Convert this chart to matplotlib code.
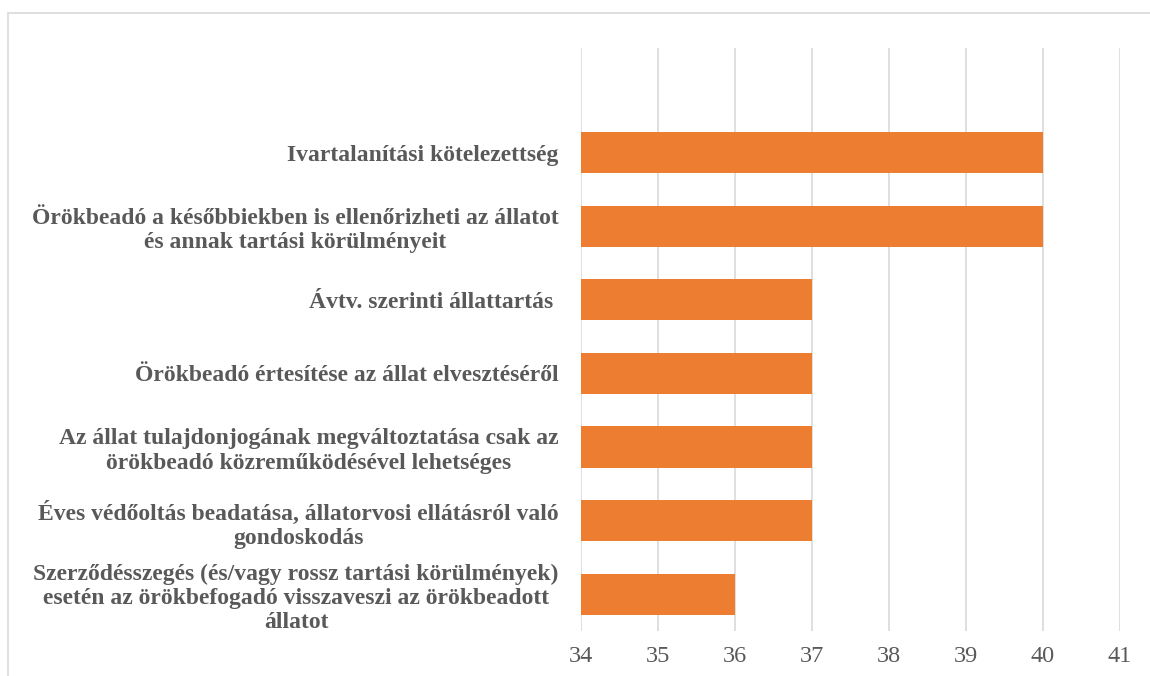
import matplotlib.pyplot as plt
from matplotlib.patches import Rectangle

categories = [
    "Ivartalanítási kötelezettség",
    "Örökbeadó a későbbiekben is ellenőrizheti az állatot\nés annak tartási körülményeit",
    "Ávtv. szerinti állattartás ",
    "Örökbeadó értesítése az állat elvesztéséről",
    "Az állat tulajdonjogának megváltoztatása csak az\nörökbeadó közreműködésével lehetséges",
    "Éves védőoltás beadatása, állatorvosi ellátásról való\ngondoskodás",
    "Szerződésszegés (és/vagy rossz tartási körülmények)\nesetén az örökbefogadó visszaveszi az örökbeadott\nállatot",
]
values = [40, 40, 37, 37, 37, 37, 36]
xticks = [34, 35, 36, 37, 38, 39, 40, 41]

plt.rcParams['font.family'] = ['Liberation Serif', 'DejaVu Serif']

fig = plt.figure(figsize=(11.5, 6.76), dpi=100)
ax = fig.add_axes([581/1150, 1 - 631/676, (1120-581)/1150, (631-48)/676])

y = list(range(len(categories)))
ax.barh(y, [v - 34 for v in values], left=34, height=0.56, color='#ED7D31', zorder=2)

ax.set_xlim(34, 41)
ax.set_ylim(6.5, -1.42)
ax.set_xticks(xticks)
ax.set_xticklabels([str(t) for t in xticks], fontsize=17.5, color='#595959')
ax.set_yticks(y)
ax.set_yticklabels(categories, fontsize=17, fontweight='bold', color='#595959',
                   ma='center', linespacing=1.2)
ax.tick_params(axis='y', length=0, pad=16)
ax.tick_params(axis='x', length=0, pad=11)
ax.grid(axis='x', color='#D9D9D9', linewidth=1.2, zorder=0)
for s in ax.spines.values():
    s.set_visible(False)

fig.patches.append(Rectangle((8/1150, -0.1), 1.2, 1 - 13/676 + 0.1,
                             transform=fig.transFigure, fill=False,
                             edgecolor='#D9D9D9', linewidth=1.2))

fig.savefig('out.png', dpi=100)
